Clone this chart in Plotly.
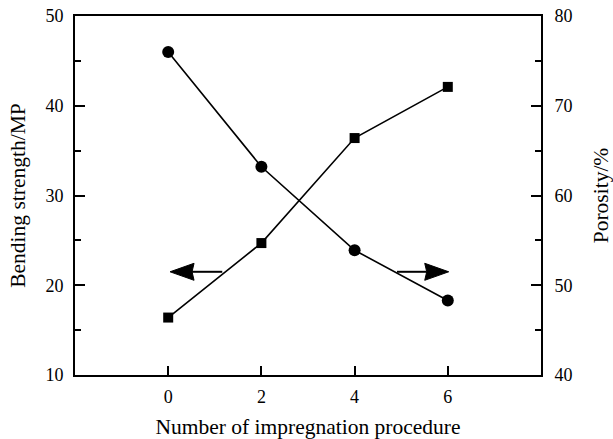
import plotly.graph_objects as go

# ---- data ----
procedures = [0, 2, 4, 6]
bending_strength = [16.4, 24.7, 36.4, 42.1]   # left axis (squares)
porosity = [76.0, 63.2, 53.9, 48.3]           # right axis (circles)

x_ticks = [0, 2, 4, 6]
x_range = [-2, 8]
y_left_range = [10, 50]
y_right_range = [40, 80]

# arrows (in x / left-axis units): tail x, tip x, y
arrow_left = {"tail": 1.16, "tip": 0.04, "y": 21.5}
arrow_right = {"tail": 4.91, "tip": 6.02, "y": 21.5}

FONT = "Liberation Serif"
W, H = 613, 439
M = dict(l=75, r=72, t=16, b=64)

# pixel -> data unit conversion for arrowhead size
px_per_x = (W - M["l"] - M["r"]) / (x_range[1] - x_range[0])
px_per_y = (H - M["t"] - M["b"]) / (y_left_range[1] - y_left_range[0])
HEAD_LEN, HEAD_HALF, HEAD_NOTCH = 24, 8.5, 22

fig = go.Figure()
fig.add_trace(go.Scatter(
    x=procedures, y=bending_strength, mode="lines+markers",
    line=dict(color="black", width=1.6),
    marker=dict(symbol="square", size=10, color="black"),
    yaxis="y", showlegend=False, cliponaxis=False))
fig.add_trace(go.Scatter(
    x=procedures, y=porosity, mode="lines+markers",
    line=dict(color="black", width=1.6),
    marker=dict(symbol="circle", size=12, color="black"),
    yaxis="y2", showlegend=False, cliponaxis=False))

for arr in (arrow_left, arrow_right):
    s = 1 if arr["tail"] > arr["tip"] else -1
    tip, yv = arr["tip"], arr["y"]
    dl = s * HEAD_LEN / px_per_x
    dn = s * HEAD_NOTCH / px_per_x
    dh = HEAD_HALF / px_per_y
    # shaft
    fig.add_trace(go.Scatter(
        x=[arr["tail"], tip + dn], y=[yv, yv], mode="lines",
        line=dict(color="black", width=2), showlegend=False, hoverinfo="skip"))
    # head
    fig.add_trace(go.Scatter(
        x=[tip, tip + dl, tip + dn, tip + dl, tip],
        y=[yv, yv + dh, yv, yv - dh, yv],
        mode="lines", fill="toself", fillcolor="black",
        line=dict(color="black", width=1), showlegend=False, hoverinfo="skip"))

axis_common = dict(showgrid=False, zeroline=False, linecolor="black", linewidth=2,
                   ticks="inside", tickwidth=2, tickcolor="black", automargin=False,
                   tickfont=dict(family=FONT, size=18, color="black"))

fig.update_layout(
    width=W, height=H,
    margin=M,
    paper_bgcolor="white", plot_bgcolor="white",
    font=dict(family=FONT, color="black"),
    xaxis=dict(range=x_range, tickvals=x_ticks, ticklen=9, mirror=True,
               title=dict(text="Number of impregnation procedure",
                          font=dict(family=FONT, size=21.5), standoff=13),
               ticklabelstandoff=4,
               **axis_common),
    yaxis=dict(range=y_left_range, dtick=10, ticklen=10,
               minor=dict(dtick=5, ticklen=6, tickwidth=2, ticks="inside", tickcolor="black"),
               title=dict(text="Bending strength/MP",
                          font=dict(family=FONT, size=21.5), standoff=14),
               ticklabelstandoff=6,
               **axis_common),
    yaxis2=dict(range=y_right_range, dtick=10, ticklen=10, overlaying="y", side="right",
                minor=dict(dtick=5, ticklen=6, tickwidth=2, ticks="inside", tickcolor="black"),
                title=dict(text="Porosity/%",
                           font=dict(family=FONT, size=21.5), standoff=24),
                ticklabelstandoff=8,
                **axis_common),
)

fig.write_html("out.html")
